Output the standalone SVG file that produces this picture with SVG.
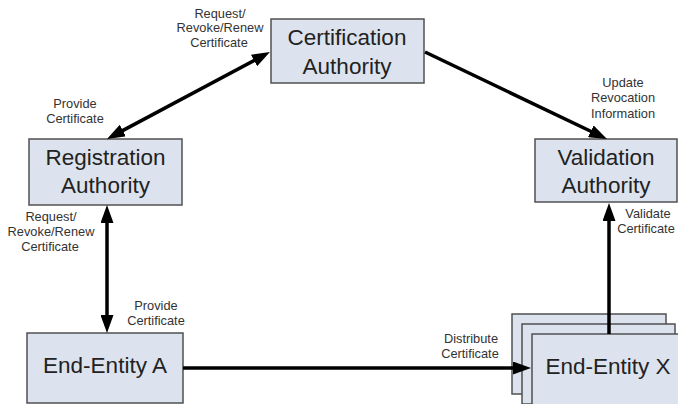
<svg xmlns="http://www.w3.org/2000/svg" width="678" height="404" viewBox="0 0 678 404">
<style>
.box{fill:#dde3ee;stroke:#505050;stroke-width:1.5}
.nt{font-family:"Liberation Sans",Arial,sans-serif;font-size:22.5px;fill:#222;text-anchor:middle}
.lb{font-family:"Liberation Sans",Arial,sans-serif;font-size:12.8px;fill:#333;text-anchor:middle}
.cn{fill:none;stroke:#000;stroke-width:3.5}
</style>
<defs>
<marker id="ah" viewBox="0 0 18 13" markerWidth="18" markerHeight="13" refX="4" refY="6.5" orient="auto-start-reverse" markerUnits="userSpaceOnUse">
<path d="M0,0 L18,6.5 L0,13 z" fill="#000"/>
</marker>
</defs>
<rect width="678" height="404" fill="#fff"/>
<g id="ca">
<rect class="box" x="271" y="19" width="153" height="64"/>
<text class="nt" x="347" y="45">Certification</text>
<text class="nt" x="347" y="74">Authority</text>
</g>
<g id="ra">
<rect class="box" x="29" y="139" width="153" height="66"/>
<text class="nt" x="105.5" y="165">Registration</text>
<text class="nt" x="105.5" y="193">Authority</text>
</g>
<g id="va">
<rect class="box" x="535" y="139" width="142" height="63"/>
<text class="nt" x="606" y="165">Validation</text>
<text class="nt" x="606" y="193">Authority</text>
</g>
<g id="eea">
<rect class="box" x="27" y="333" width="156" height="70"/>
<text class="nt" x="105" y="373">End-Entity A</text>
</g>
<g id="eex">
<rect class="box" x="512" y="314" width="154" height="80"/>
<rect class="box" x="522" y="324" width="153" height="80"/>
<rect class="box" x="532" y="334" width="160" height="80"/>
<text class="nt" x="608" y="374">End-Entity X</text>
</g>
<g id="connectors">
<path class="cn" d="M119.3,132.4 L257.6,58.6" marker-start="url(#ah)" marker-end="url(#ah)"/>
<path class="cn" d="M425,52 L594.4,133" marker-end="url(#ah)"/>
<path class="cn" d="M107,219 L107,319" marker-start="url(#ah)" marker-end="url(#ah)"/>
<path class="cn" d="M183,368 L517,368" marker-end="url(#ah)"/>
<path class="cn" d="M609,334 L609,217" marker-end="url(#ah)"/>
</g>
<g id="labels">
<text class="lb" x="220" y="18">Request/</text>
<text class="lb" x="220" y="32">Revoke/Renew</text>
<text class="lb" x="219" y="47">Certificate</text>
<text class="lb" x="75" y="108">Provide</text>
<text class="lb" x="75" y="123">Certificate</text>
<text class="lb" x="623" y="87">Update</text>
<text class="lb" x="623" y="102">Revocation</text>
<text class="lb" x="623" y="118">Information</text>
<text class="lb" x="51" y="221">Request/</text>
<text class="lb" x="51" y="236">Revoke/Renew</text>
<text class="lb" x="50" y="251">Certificate</text>
<text class="lb" x="648" y="218">Validate</text>
<text class="lb" x="646" y="233">Certificate</text>
<text class="lb" x="156" y="310">Provide</text>
<text class="lb" x="156" y="325">Certificate</text>
<text class="lb" x="471" y="343">Distribute</text>
<text class="lb" x="470" y="358">Certificate</text>
</g>
</svg>
